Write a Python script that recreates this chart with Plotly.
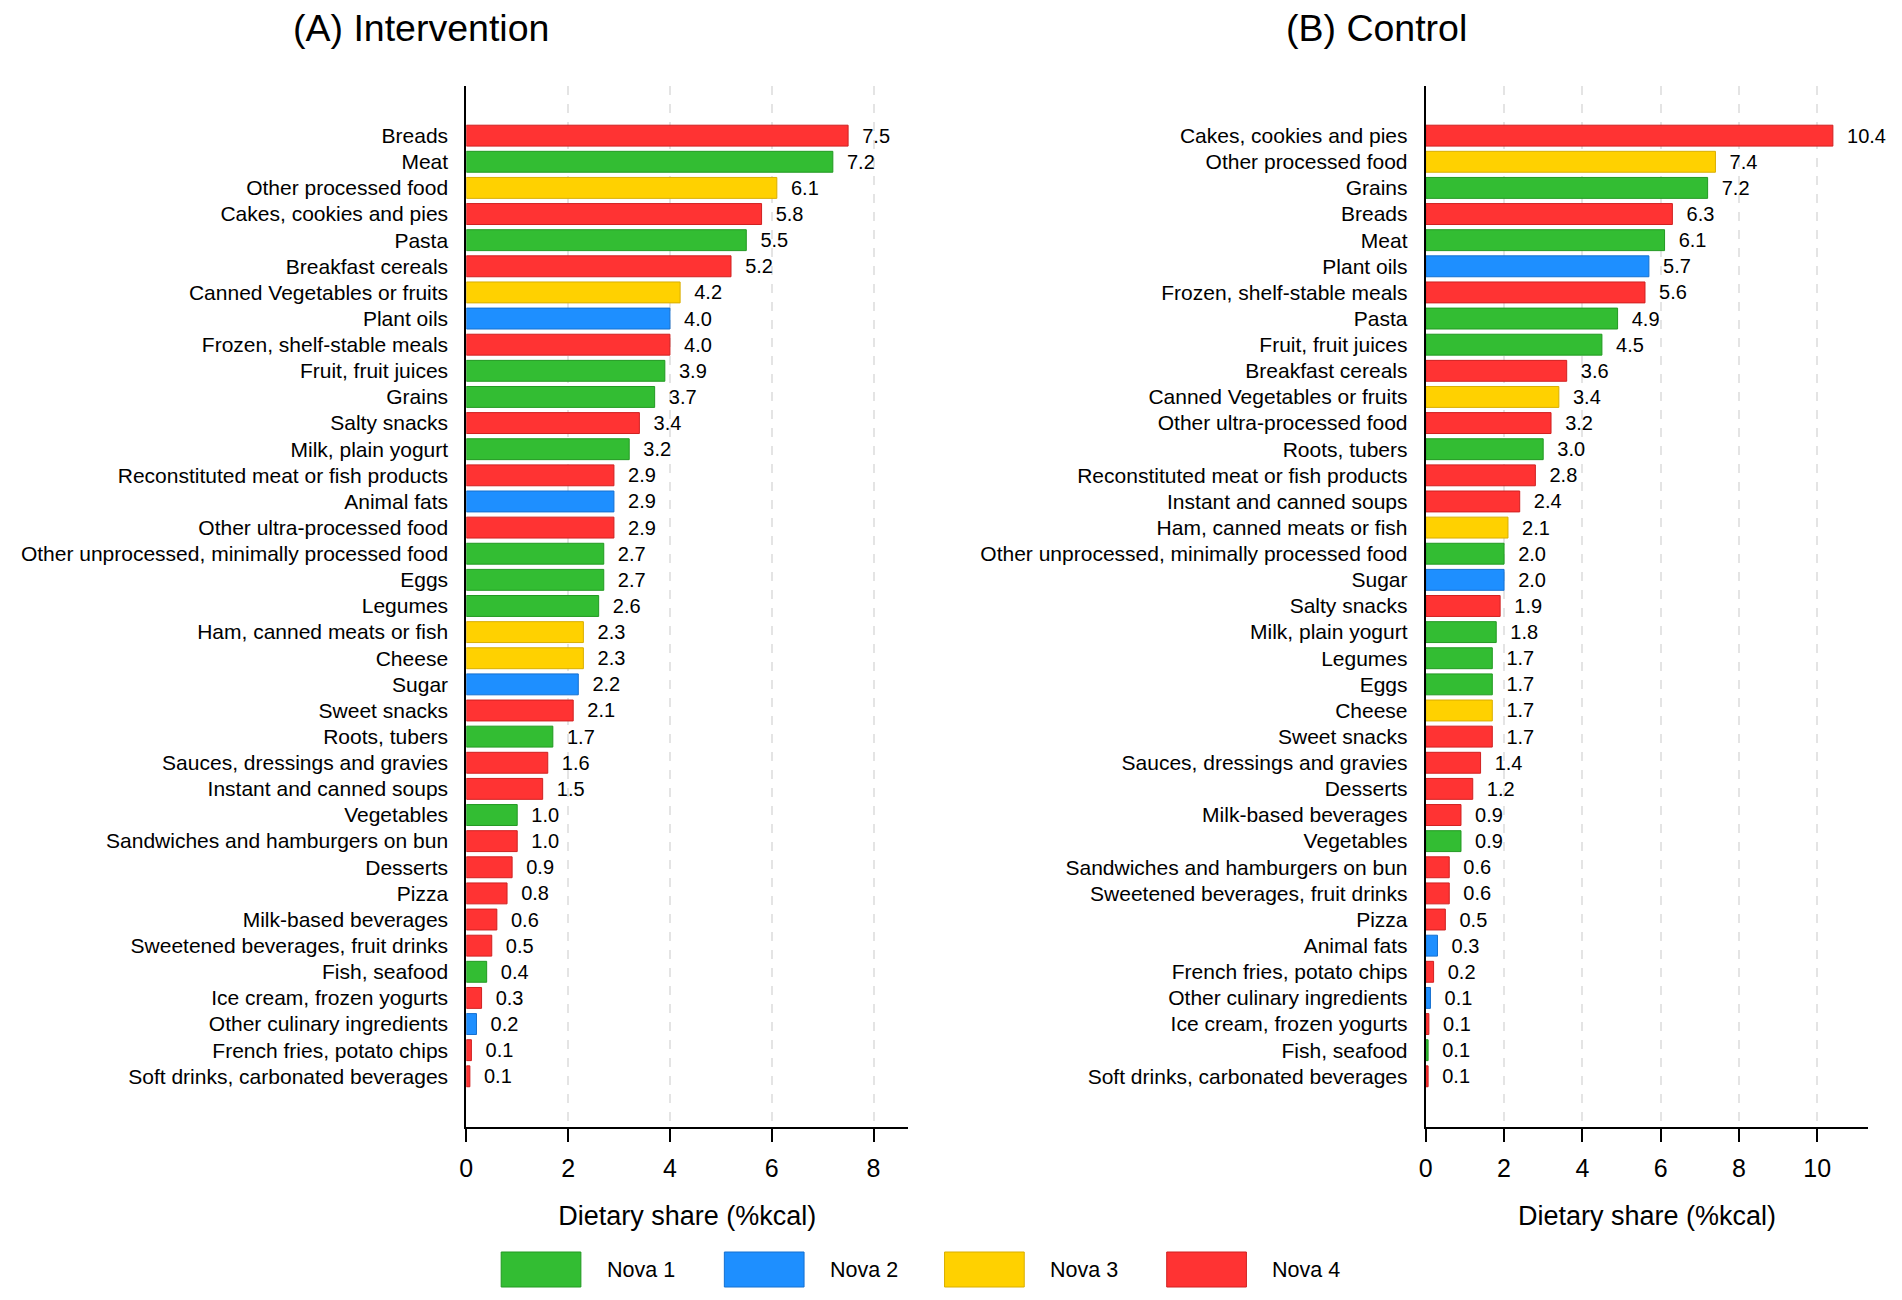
import plotly.graph_objects as go

# ---------------- data ----------------
int_categories = [
    "Breads", "Meat", "Other processed food", "Cakes, cookies and pies", "Pasta",
    "Breakfast cereals", "Canned Vegetables or fruits", "Plant oils",
    "Frozen, shelf-stable meals", "Fruit, fruit juices", "Grains", "Salty snacks",
    "Milk, plain yogurt", "Reconstituted meat or fish products", "Animal fats",
    "Other ultra-processed food", "Other unprocessed, minimally processed food",
    "Eggs", "Legumes", "Ham, canned meats or fish", "Cheese", "Sugar",
    "Sweet snacks", "Roots, tubers", "Sauces, dressings and gravies",
    "Instant and canned soups", "Vegetables", "Sandwiches and hamburgers on bun",
    "Desserts", "Pizza", "Milk-based beverages", "Sweetened beverages, fruit drinks",
    "Fish, seafood", "Ice cream, frozen yogurts", "Other culinary ingredients",
    "French fries, potato chips", "Soft drinks, carbonated beverages",
]
int_values = [
    7.5, 7.2, 6.1, 5.8, 5.5, 5.2, 4.2, 4.0, 4.0, 3.9, 3.7, 3.4, 3.2, 2.9, 2.9,
    2.9, 2.7, 2.7, 2.6, 2.3, 2.3, 2.2, 2.1, 1.7, 1.6, 1.5, 1.0, 1.0, 0.9, 0.8,
    0.6, 0.5, 0.4, 0.3, 0.2, 0.1, 0.07,
]
int_nova = [
    4, 1, 3, 4, 1, 4, 3, 2, 4, 1, 1, 4, 1, 4, 2, 4, 1, 1, 1, 3, 3, 2, 4, 1, 4,
    4, 1, 4, 4, 4, 4, 4, 1, 4, 2, 4, 4,
]

ctl_categories = [
    "Cakes, cookies and pies", "Other processed food", "Grains", "Breads", "Meat",
    "Plant oils", "Frozen, shelf-stable meals", "Pasta", "Fruit, fruit juices",
    "Breakfast cereals", "Canned Vegetables or fruits", "Other ultra-processed food",
    "Roots, tubers", "Reconstituted meat or fish products", "Instant and canned soups",
    "Ham, canned meats or fish", "Other unprocessed, minimally processed food",
    "Sugar", "Salty snacks", "Milk, plain yogurt", "Legumes", "Eggs", "Cheese",
    "Sweet snacks", "Sauces, dressings and gravies", "Desserts",
    "Milk-based beverages", "Vegetables", "Sandwiches and hamburgers on bun",
    "Sweetened beverages, fruit drinks", "Pizza", "Animal fats",
    "French fries, potato chips", "Other culinary ingredients",
    "Ice cream, frozen yogurts", "Fish, seafood", "Soft drinks, carbonated beverages",
]
ctl_values = [
    10.4, 7.4, 7.2, 6.3, 6.1, 5.7, 5.6, 4.9, 4.5, 3.6, 3.4, 3.2, 3.0, 2.8, 2.4,
    2.1, 2.0, 2.0, 1.9, 1.8, 1.7, 1.7, 1.7, 1.7, 1.4, 1.2, 0.9, 0.9, 0.6, 0.6,
    0.5, 0.3, 0.2, 0.12, 0.08, 0.06, 0.06,
]
ctl_nova = [
    4, 3, 1, 4, 1, 2, 4, 1, 1, 4, 3, 4, 1, 4, 4, 3, 1, 2, 4, 1, 1, 1, 3, 4, 4,
    4, 4, 1, 4, 4, 4, 2, 4, 2, 4, 1, 4,
]

nova_groups = [1, 2, 3, 4]
nova_labels = ["Nova 1", "Nova 2", "Nova 3", "Nova 4"]
nova_fill = {1: "#33BD33", 2: "#1E8FFF", 3: "#FFD100", 4: "#FF3333"}
nova_edge = {1: "#229922", 2: "#1570D0", 3: "#D9AE00", 4: "#D02020"}

panel_titles = ["(A) Intervention", "(B) Control"]
x_title = "Dietary share (%kcal)"

FONT = "Liberation Sans, Arial, sans-serif"
W, H = 1902, 1300

fig = go.Figure()

for i, (cats, vals, nova) in enumerate([
    (int_categories, int_values, int_nova),
    (ctl_categories, ctl_values, ctl_nova),
]):
    sfx = "" if i == 0 else str(i + 1)
    fig.add_trace(go.Bar(
        y=cats, x=vals, orientation="h",
        marker=dict(color=[nova_fill[n] for n in nova],
                    line=dict(color=[nova_edge[n] for n in nova], width=1)),
        width=0.8,
        texttemplate="  %{x:.1f}", textposition="outside",
        textfont=dict(size=20, color="black", family=FONT),
        constraintext="none", cliponaxis=False,
        showlegend=False, hoverinfo="x+y",
        xaxis="x" + sfx, yaxis="y" + sfx,
    ))

def xaxis(domain, rng, tickvals, anchor):
    return dict(
        domain=domain, range=rng, tickvals=tickvals, anchor=anchor,
        showline=True, linecolor="black", linewidth=2,
        ticks="outside", ticklen=13, tickwidth=2, tickcolor="black",
        ticklabelstandoff=5,
        showgrid=True, gridcolor="#e4e4e4", griddash="dash", gridwidth=2,
        zeroline=False, tickfont=dict(size=25, color="black", family=FONT),
        title=dict(text=x_title, font=dict(size=27, color="black", family=FONT),
                   standoff=25),
    )

def yaxis(domain, cats, anchor):
    return dict(
        domain=domain, type="category", categoryorder="array", categoryarray=cats,
        range=[37.94, -1.90], anchor=anchor,
        showline=True, linecolor="black", linewidth=2, ticks="",
        showgrid=False, zeroline=False, ticklabelstandoff=12,
        tickfont=dict(size=21, color="black", family=FONT),
    )

ydom = [1 - 1127 / H, 1 - 86 / H]
fig.update_layout(
    width=W, height=H, margin=dict(l=0, r=0, t=0, b=0),
    paper_bgcolor="white", plot_bgcolor="white",
    font=dict(family=FONT, color="black"),
    bargap=0.2,
    xaxis=xaxis([461 / W, 904.5 / W], [0, 8.68], [0, 2, 4, 6, 8], "y"),
    yaxis=yaxis(ydom, int_categories, "x"),
    xaxis2=xaxis([1424 / W, 1868 / W], [0, 11.3], [0, 2, 4, 6, 8, 10], "y2"),
    yaxis2=yaxis(ydom, ctl_categories, "x2"),
)

# panel titles
for t, xc in zip(panel_titles, [415.5 / W, 1375 / W]):
    fig.add_annotation(text=t, x=xc, y=1 - 28 / H, xref="paper", yref="paper",
                       showarrow=False, xanchor="center", yanchor="middle",
                       font=dict(size=37.5, color="black", family=FONT))

# legend (drawn as swatches + labels)
legend_x = [496, 720, 941, 1164]
for n, lab, lx in zip(nova_groups, nova_labels, legend_x):
    fig.add_shape(type="rect", xref="paper", yref="paper",
                  x0=lx / W, x1=(lx + 80) / W, y0=1 - 1287 / H, y1=1 - 1252 / H,
                  fillcolor=nova_fill[n], line=dict(color=nova_edge[n], width=1))
    fig.add_annotation(text=lab, x=(lx + 104) / W, y=1 - 1270 / H,
                       xref="paper", yref="paper", showarrow=False,
                       xanchor="left", yanchor="middle",
                       font=dict(size=21.5, color="black", family=FONT))

fig.write_html(
    "out.html",
    config={"displayModeBar": False},
    post_script="document.body.style.margin='0';document.body.style.overflow='hidden';",
)
